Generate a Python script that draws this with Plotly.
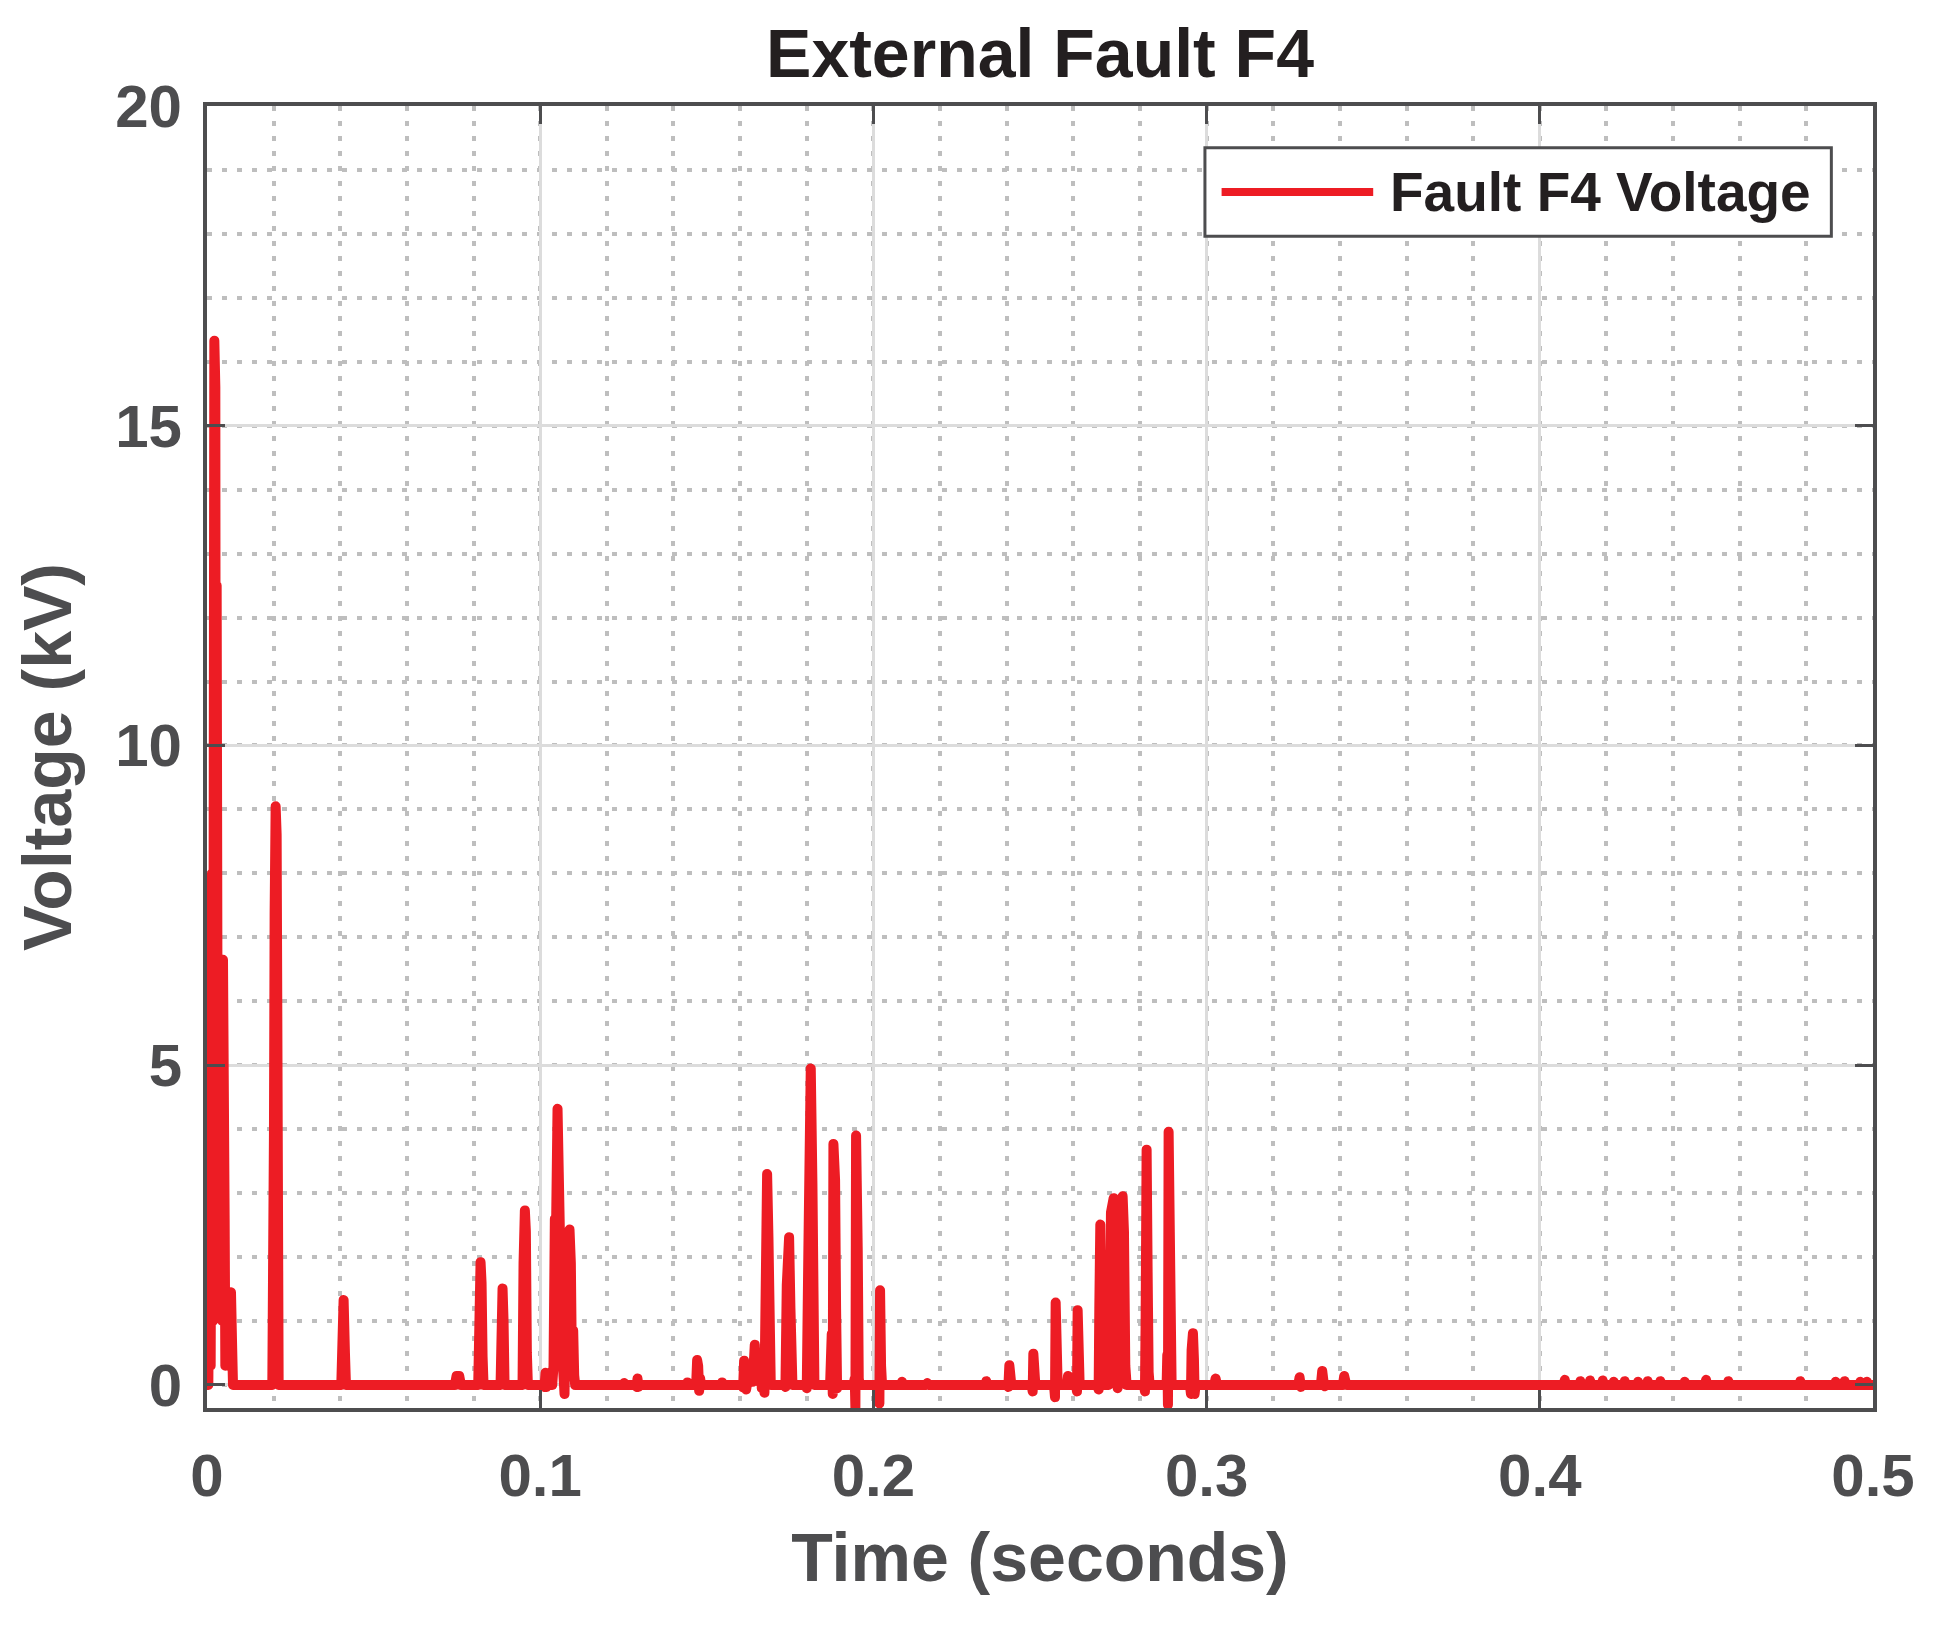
import plotly.graph_objects as go

# Voltage trace (kV), split by burst of activity
t_onset = [0.0000, 0.0004, 0.0008, 0.0011, 0.0015, 0.0018, 0.0022, 0.0025, 0.0027, 0.0029,
           0.0031, 0.0033, 0.0035, 0.0037, 0.0039, 0.0041, 0.0044, 0.0046, 0.0048, 0.0051,
           0.0053, 0.0055, 0.0060, 0.0064, 0.0068, 0.0072, 0.0075, 0.0078]
v_onset = [0.00, 0.00, 3.00, 0.30, 8.00, 1.00, 16.33, 15.60, 3.00, 12.50,
           7.80, 1.80, 6.00, 1.80, 5.50, 1.80, 6.00, 1.00, 6.65, 5.80,
           2.60, 0.30, 1.45, 0.30, 1.45, 1.45, 0.70, 0.00]

t_early = [0.0196, 0.0199, 0.0201, 0.0203, 0.0206, 0.0209, 0.0211, 0.0213, 0.0215,
           0.0403, 0.0406, 0.0410, 0.0414, 0.0417]
v_early = [0.00, 1.00, 4.00, 7.40, 9.05, 8.60, 5.80, 0.50, 0.00,
           0.00, 0.55, 1.33, 0.50, 0.00]

t_burst1 = [0.0744, 0.0749, 0.0757, 0.0762,
            0.0814, 0.0817, 0.0821, 0.0824, 0.0827, 0.0830,
            0.0881, 0.0884, 0.0887, 0.0890, 0.0893,
            0.0947, 0.0950, 0.0954, 0.0957, 0.0960, 0.0963,
            0.1010, 0.1013, 0.1016, 0.1019, 0.1022,
            0.1036, 0.1040, 0.1044, 0.1047, 0.1052, 0.1056, 0.1059, 0.1062, 0.1066,
            0.1073, 0.1078, 0.1088, 0.1092, 0.1095, 0.1099, 0.1102, 0.1105]
v_burst1 = [0.00, 0.14, 0.14, 0.00,
            0.00, 0.40, 1.92, 1.60, 0.45, 0.00,
            0.00, 0.55, 1.51, 1.00, 0.00,
            0.00, 1.90, 2.73, 2.40, 0.50, 0.00,
            0.00, -0.03, 0.19, -0.03, 0.00,
            0.00, 0.30, 2.60, 2.20, 4.32, 2.60, 1.00, 2.30, 0.50,
            -0.14, 1.90, 2.43, 1.90, 0.40, 0.85, 0.15, 0.00]

t_burst2 = [0.1250, 0.1252, 0.1254, 0.1287, 0.1290, 0.1292, 0.1295, 0.1298,
            0.1439, 0.1442, 0.1445, 0.1468, 0.1471, 0.1474, 0.1477, 0.1480, 0.1483,
            0.1543, 0.1546, 0.1549]
v_burst2 = [0.00, 0.03, 0.00, 0.00, -0.03, 0.10, -0.03, 0.00,
            0.00, 0.04, 0.00, 0.00, 0.39, 0.30, -0.09, 0.10, 0.00,
            0.00, 0.04, 0.00]

t_burst3 = [0.1606, 0.1609, 0.1612, 0.1615, 0.1618, 0.1622,
            0.1638, 0.1641, 0.1644, 0.1648, 0.1652, 0.1657, 0.1661, 0.1665,
            0.1670, 0.1673, 0.1676, 0.1681, 0.1685, 0.1689, 0.1692,
            0.1733, 0.1736, 0.1740, 0.1747, 0.1751, 0.1754, 0.1757,
            0.1797, 0.1800, 0.1805, 0.1812, 0.1817, 0.1820, 0.1823,
            0.1870, 0.1875, 0.1878, 0.1880, 0.1885, 0.1888, 0.1891, 0.1894,
            0.1940, 0.1944, 0.1946, 0.1948, 0.1951, 0.1953, 0.1956, 0.1959,
            0.2013, 0.2016, 0.2018, 0.2020, 0.2023, 0.2026,
            0.2083, 0.2086, 0.2089, 0.2159, 0.2162, 0.2165]
v_burst3 = [0.00, -0.04, 0.38, 0.25, -0.07, 0.05,
            0.05, 0.30, 0.63, 0.20, 0.35, 0.05, 0.44, -0.05,
            0.10, -0.12, 2.20, 3.30, 2.31, 0.40, 0.00,
            0.00, -0.03, 1.56, 2.31, 1.20, 0.28, 0.00,
            0.00, -0.05, 2.18, 4.95, 3.15, 0.70, 0.00,
            0.00, 0.80, -0.14, 3.77, 3.20, 1.20, -0.05, 0.00,
            0.00, 0.10, -0.36, 3.90, 3.02, 2.10, 0.10, 0.00,
            0.00, 0.70, -0.29, 1.48, 0.30, 0.00,
            0.00, 0.05, 0.00, 0.00, 0.03, 0.00]

t_burst4 = [0.2336, 0.2339, 0.2342,
            0.2403, 0.2405, 0.2408, 0.2411, 0.2414,
            0.2475, 0.2478, 0.2480, 0.2483, 0.2486,
            0.2542, 0.2545, 0.2547, 0.2550, 0.2553,
            0.2581, 0.2584, 0.2587,
            0.2608, 0.2611, 0.2613, 0.2616, 0.2619,
            0.2672, 0.2676, 0.2678, 0.2681, 0.2684, 0.2688,
            0.2706, 0.2709, 0.2713, 0.2721, 0.2726, 0.2733, 0.2740, 0.2748, 0.2752, 0.2756, 0.2760,
            0.2812, 0.2815, 0.2817, 0.2820, 0.2823, 0.2826, 0.2829,
            0.2880, 0.2882, 0.2884, 0.2886, 0.2889, 0.2892, 0.2895,
            0.2950, 0.2953, 0.2955, 0.2959, 0.2962, 0.2964, 0.2967]
v_burst4 = [0.00, 0.06, 0.00,
            0.00, -0.03, 0.31, 0.10, 0.00,
            0.00, -0.10, 0.49, 0.20, 0.00,
            0.00, -0.19, 1.29, 0.60, 0.00,
            0.00, 0.14, 0.00,
            0.00, -0.10, 1.17, 0.50, 0.00,
            0.00, -0.07, 1.20, 2.51, 1.00, 0.00,
            0.00, 0.60, 2.70, 2.92, 1.00, -0.05, 1.50, 2.95, 2.40, 0.30, 0.00,
            0.00, -0.10, 1.00, 3.68, 1.77, 0.20, 0.00,
            0.00, 0.47, -0.31, 3.96, 2.00, 0.20, 0.00,
            0.00, -0.14, 0.55, 0.81, 0.40, -0.14, 0.00]

t_tail = [0.3023, 0.3027, 0.3031,
          0.3275, 0.3279, 0.3283, 0.3287,
          0.3343, 0.3347, 0.3351, 0.3355, 0.3358,
          0.3409, 0.3413, 0.3417, 0.3421,
          0.4072, 0.4075, 0.4078, 0.4119, 0.4122, 0.4125, 0.4148, 0.4151, 0.4154,
          0.4186, 0.4189, 0.4192, 0.4219, 0.4222, 0.4225, 0.4252, 0.4255, 0.4258,
          0.4292, 0.4295, 0.4298, 0.4321, 0.4324, 0.4327, 0.4359, 0.4362, 0.4365,
          0.4432, 0.4435, 0.4438, 0.4496, 0.4499, 0.4502, 0.4563, 0.4566, 0.4569,
          0.4779, 0.4782, 0.4785, 0.4885, 0.4888, 0.4891, 0.4912, 0.4915, 0.4918,
          0.4959, 0.4962, 0.4965, 0.4979, 0.4982, 0.4985, 0.5000]
v_tail = [0.00, 0.10, 0.00,
          0.00, 0.12, -0.03, 0.00,
          0.00, 0.22, 0.05, -0.02, 0.00,
          0.00, 0.14, 0.05, 0.00,
          0.00, 0.08, 0.00, 0.00, 0.06, 0.00, 0.00, 0.07, 0.00,
          0.00, 0.07, 0.00, 0.00, 0.05, 0.00, 0.00, 0.06, 0.00,
          0.00, 0.05, 0.00, 0.00, 0.06, 0.00, 0.00, 0.06, 0.00,
          0.00, 0.05, 0.00, 0.00, 0.08, 0.00, 0.00, 0.06, 0.00,
          0.00, 0.06, 0.00, 0.00, 0.05, 0.00, 0.00, 0.06, 0.00,
          0.00, 0.05, 0.00, 0.00, 0.05, 0.00, 0.00]

time_s = t_onset + t_early + t_burst1 + t_burst2 + t_burst3 + t_burst4 + t_tail
voltage_kv = v_onset + v_early + v_burst1 + v_burst2 + v_burst3 + v_burst4 + v_tail

x_ticks = [0, 0.1, 0.2, 0.3, 0.4, 0.5]
y_ticks = [0, 5, 10, 15, 20]

RED = "#ED1C24"
GREY = "#4D4D4F"
FONT = "Liberation Sans, Arial, sans-serif"

fig = go.Figure()

fig.add_trace(go.Scatter(
    x=time_s,
    y=voltage_kv,
    mode="lines",
    name="Fault F4 Voltage",
    line=dict(color=RED, width=10),
    showlegend=False
))

axis_common = dict(
    showline=True,
    linecolor=GREY,
    linewidth=4,
    mirror="ticks",
    ticks="inside",
    ticklen=18,
    tickwidth=3,
    tickcolor=GREY,
    showgrid=True,
    gridcolor="#DCDCDC",
    gridwidth=3,
    zeroline=False,
    tickfont=dict(family=FONT, size=60, color=GREY, weight="bold"),
)

minor_grid = dict(showgrid=True, gridcolor="#BEBEBE", gridwidth=3.5, griddash="5px,10px")

fig.update_xaxes(
    range=[0, 0.5],
    tickvals=x_ticks,
    ticklabelstandoff=12,
    minor=dict(dtick=0.02, **minor_grid),
    title=dict(text="Time (seconds)", standoff=26,
               font=dict(family=FONT, size=68, color=GREY, weight="bold")),
    **axis_common
)

fig.update_yaxes(
    range=[-0.36, 20],
    tickvals=y_ticks,
    ticklabelstandoff=9,
    minor=dict(dtick=1, **minor_grid),
    title=dict(text="Voltage (kV)", standoff=22,
               font=dict(family=FONT, size=68, color=GREY, weight="bold")),
    **axis_common
)

# legend drawn as a box like the original
fig.add_shape(type="rect", xref="paper", yref="paper",
              x0=0.599, x1=0.975, y0=0.900, y1=0.968,
              fillcolor="white", line=dict(color=GREY, width=3), layer="above")
fig.add_shape(type="line", xref="paper", yref="paper",
              x0=0.609, x1=0.700, y0=0.934, y1=0.934,
              line=dict(color=RED, width=8), layer="above")
fig.add_annotation(xref="paper", yref="paper", x=0.709, y=0.934,
                   xanchor="left", yanchor="middle", showarrow=False,
                   text="Fault F4 Voltage",
                   font=dict(family=FONT, size=55, color="#231F20", weight="bold"))

# page body has a small margin, so the figure is a bit smaller than the window
fig.update_layout(
    width=1919,
    height=1610,
    margin=dict(l=199, r=46, t=98, b=210),
    paper_bgcolor="white",
    plot_bgcolor="white",
    title=dict(text="External Fault F4", x=0.5, xref="paper", xanchor="center",
               y=1 - 45 / 1610, yref="container", yanchor="middle",
               font=dict(family=FONT, size=68, color="#231F20", weight="bold")),
)

round_lines = ("document.querySelectorAll('.scatterlayer .js-line').forEach(function(p){"
               "p.style.strokeLinejoin='round';p.style.strokeLinecap='round';});")

fig.write_html("out.html", post_script=round_lines)
